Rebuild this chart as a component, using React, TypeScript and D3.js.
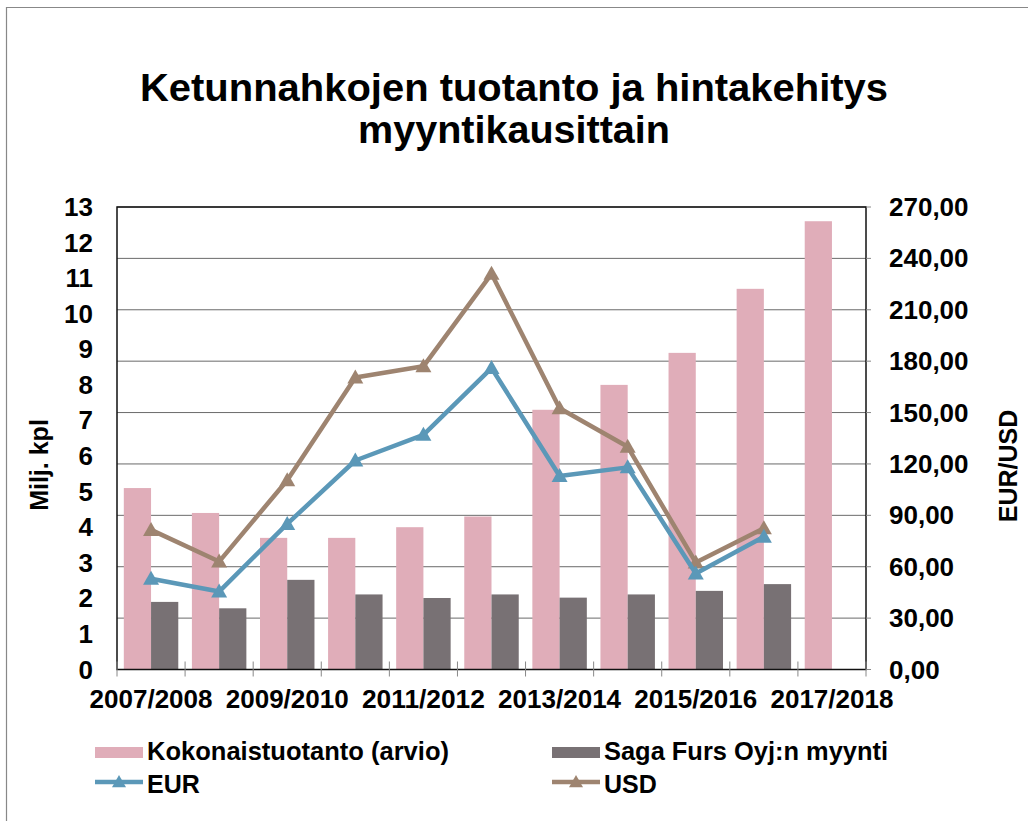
import React from "react";
import * as d3 from "d3";

const categories = ["2007/2008","2008/2009","2009/2010","2010/2011","2011/2012","2012/2013","2013/2014","2014/2015","2015/2016","2016/2017","2017/2018"];
const totalProduction = [5.1, 4.4, 3.7, 3.7, 4.0, 4.3, 7.3, 8.0, 8.9, 10.7, 12.6];
const sagaSales: (number | null)[] = [1.9, 1.72, 2.52, 2.11, 2.01, 2.11, 2.02, 2.11, 2.21, 2.4, null];
const eur: (number | null)[] = [53, 45.5, 85, 122, 137, 176, 113, 118, 56, 77.5, null];
const usd: (number | null)[] = [81.5, 63, 110.5, 170.5, 177, 231, 152.5, 130, 62.5, 82.5, null];
const leftTicks = d3.range(0, 14);
const rightTicks = d3.range(0, 271, 30);

const W = 1028, H = 821;
const PL = 117, PR = 866, PT = 207, PB = 669.5;
const FONT = "'Liberation Sans', Arial, Helvetica, sans-serif";
const PINK = "#E0ADB9", GRAY = "#787174", BLUE = "#5B98B8", BROWN = "#9E8470";

function Tri({ x, y, color, s = 8 }: { x: number; y: number; color: string; s?: number }) {
  return <path d={`M${x},${y - s}L${x + s},${y + s * 0.75}L${x - s},${y + s * 0.75}Z`} fill={color} />;
}

export default function App() {
  const x = d3.scaleBand<string>().domain(categories).range([PL, PR]).padding(0);
  const bw = x.bandwidth();
  const yL = d3.scaleLinear().domain([0, 13]).range([PB, PT]);
  const yR = d3.scaleLinear().domain([0, 270]).range([PB, PT]);
  const cx = (c: string) => (x(c) as number) + bw / 2;

  const lineGen = d3.line<[string, number | null]>()
    .defined((d) => d[1] != null)
    .x((d) => cx(d[0]))
    .y((d) => yR(d[1] as number));

  const eurPts = categories.map((c, i) => [c, eur[i]] as [string, number | null]);
  const usdPts = categories.map((c, i) => [c, usd[i]] as [string, number | null]);

  return (
    <svg width={W} height={H} style={{ position: "absolute", left: 0, top: 0, background: "#fff" }} fontFamily={FONT}>
      <rect x={0} y={0} width={W} height={H} fill="#fff" />
      <path d={`M6.5,${H}V7.5H${W}`} fill="none" stroke="#888" strokeWidth={1.2} />
      <text x={514} y={101} textAnchor="middle" fontWeight="bold" fontSize={39} textLength={748} lengthAdjust="spacingAndGlyphs">Ketunnahkojen tuotanto ja hintakehitys</text>
      <text x={514} y={143} textAnchor="middle" fontWeight="bold" fontSize={39} textLength={312} lengthAdjust="spacingAndGlyphs">myyntikausittain</text>

      {/* gridlines */}
      {rightTicks.map((t) => (
        <line key={t} x1={PL} x2={PR} y1={yR(t)} y2={yR(t)} stroke="#6a6a6a" strokeWidth={1} />
      ))}

      {/* bars */}
      {categories.map((c, i) => (
        <g key={c}>
          <rect x={(x(c) as number) + bw * 0.1} y={yL(totalProduction[i])} width={bw * 0.4} height={PB - yL(totalProduction[i])} fill={PINK} />
          {sagaSales[i] != null && (
            <rect x={(x(c) as number) + bw * 0.5} y={yL(sagaSales[i] as number)} width={bw * 0.4} height={PB - yL(sagaSales[i] as number)} fill={GRAY} />
          )}
        </g>
      ))}

      {/* lines */}
      <path d={lineGen(usdPts) || ""} fill="none" stroke={BROWN} strokeWidth={4.5} strokeLinejoin="round" />
      {usdPts.filter((d) => d[1] != null).map((d) => <Tri key={d[0]} x={cx(d[0])} y={yR(d[1] as number)} color={BROWN} />)}
      <path d={lineGen(eurPts) || ""} fill="none" stroke={BLUE} strokeWidth={4.5} strokeLinejoin="round" />
      {eurPts.filter((d) => d[1] != null).map((d) => <Tri key={d[0]} x={cx(d[0])} y={yR(d[1] as number)} color={BLUE} />)}

      {/* plot frame */}
      <rect x={PL} y={PT} width={PR - PL} height={PB - PT} fill="none" stroke="#111" strokeWidth={1.5} />

      {/* x ticks */}
      {categories.concat([""]).map((c, i) => {
        const xx = PL + i * bw;
        return <line key={i} x1={xx} x2={xx} y1={PB - 8} y2={PB + 7} stroke="#888" strokeWidth={1} />;
      })}
      {categories.map((c, i) => i % 2 === 0 ? (
        <text key={c} x={cx(c)} y={708} textAnchor="middle" fontWeight="bold" fontSize={25} textLength={123} lengthAdjust="spacingAndGlyphs">{c}</text>
      ) : null)}

      {/* left axis labels */}
      {leftTicks.map((t) => (
        <text key={t} x={93} y={yL(t) + 9} textAnchor="end" fontWeight="bold" fontSize={26}>{t}</text>
      ))}
      {/* right axis */}
      {rightTicks.map((t) => (
        <g key={t}>
          <line x1={PR} x2={PR + 5} y1={yR(t)} y2={yR(t)} stroke="#888" />
          <text x={889} y={yR(t) + 9} fontWeight="bold" fontSize={26}>{d3.format(".2f")(t).replace(".", ",")}</text>
        </g>
      ))}

      <text transform="translate(48,465) rotate(-90)" textAnchor="middle" fontWeight="bold" fontSize={25}>Milj. kpl</text>
      <text transform="translate(1017,466) rotate(-90)" textAnchor="middle" fontWeight="bold" fontSize={25}>EUR/USD</text>

      {/* legend */}
      <rect x={95} y={747} width={48} height={11} fill={PINK} />
      <text x={147} y={760} fontWeight="bold" fontSize={25} textLength={302} lengthAdjust="spacingAndGlyphs">Kokonaistuotanto (arvio)</text>
      <rect x={552} y={747} width={48} height={11} fill={GRAY} />
      <text x={604} y={760} fontWeight="bold" fontSize={25} textLength={284} lengthAdjust="spacingAndGlyphs">Saga Furs Oyj:n myynti</text>
      <line x1={95} x2={143} y1={782} y2={782} stroke={BLUE} strokeWidth={4.5} />
      <Tri x={119} y={782} color={BLUE} s={7} />
      <text x={147} y={793} fontWeight="bold" fontSize={25}>EUR</text>
      <line x1={552} x2={600} y1={782} y2={782} stroke={BROWN} strokeWidth={4.5} />
      <Tri x={576} y={782} color={BROWN} s={7} />
      <text x={604} y={793} fontWeight="bold" fontSize={25}>USD</text>
    </svg>
  );
}
